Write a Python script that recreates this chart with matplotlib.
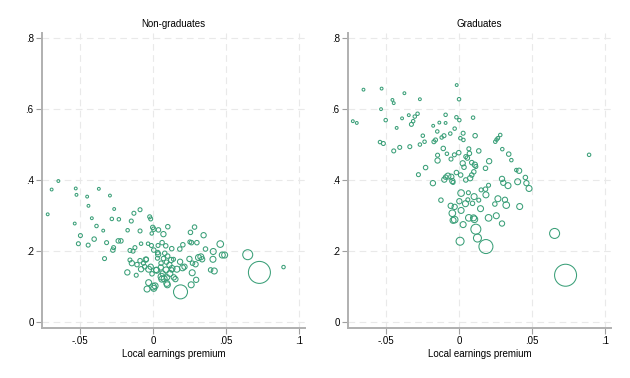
import numpy as np
import matplotlib
matplotlib.use("Agg")
import matplotlib.pyplot as plt

# local earnings premium, share, and cell weight
ng_x = [-0.0721, -0.0694, -0.0648, -0.0529, -0.0524, -0.0451, -0.0442, -0.0371, -0.0295, -0.0266,
        -0.0419, -0.0282, -0.0234, -0.0536, -0.0387, -0.0341, -0.0497, -0.0511, -0.0444, -0.0403,
        -0.0318, -0.0332, -0.0275, -0.0270, -0.0238, -0.0220, -0.0174, -0.0149, -0.0131, -0.0089,
        -0.0089, -0.0023, -0.0016, -0.0002, 0.0005, 0.0037, -0.0009, 0.0101, 0.0071, 0.0256,
        0.0284, 0.0346, 0.0300, 0.0263, 0.0460, 0.0359, 0.0412, 0.0474, 0.0490, 0.0410,
        0.0419, 0.0394, 0.0648, 0.0728, 0.0893, 0.0188, 0.0204, 0.0183, 0.0128, 0.0252,
        0.0311, 0.0327, 0.0336, 0.0291, 0.0270, 0.0249, 0.0268, 0.0295, 0.0261, 0.0202,
        0.0215, 0.0185, 0.0163, 0.0153, 0.0142, 0.0115, 0.0128, 0.0124, 0.0140, 0.0112,
        0.0092, 0.0089, 0.0096, 0.0094, 0.0098, 0.0066, 0.0053, 0.0055, 0.0071, 0.0080,
        0.0032, 0.0030, 0.0021, -0.0007, -0.0016, -0.0030, -0.0046, -0.0057, -0.0066, -0.0082,
        -0.0089, -0.0110, -0.0115, -0.0176, -0.0158, -0.0137, -0.0158, -0.0124, -0.0082, -0.0034,
        -0.0011, 0.0005, 0.0034, 0.0062, 0.0087, 0.0014, 0.0000, -0.0041, 0.0005, 0.0057,
        0.0076, -0.0145, -0.0050, 0.0035, 0.0100, 0.0130, 0.0060, -0.0030, 0.0025]
ng_y = [0.303, 0.373, 0.397, 0.376, 0.358, 0.353, 0.327, 0.375, 0.356, 0.318,
        0.292, 0.290, 0.289, 0.277, 0.270, 0.257, 0.243, 0.220, 0.216, 0.233,
        0.223, 0.178, 0.202, 0.209, 0.228, 0.228, 0.258, 0.284, 0.306, 0.316,
        0.256, 0.296, 0.290, 0.266, 0.261, 0.259, 0.249, 0.268, 0.247, 0.252,
        0.267, 0.244, 0.223, 0.223, 0.219, 0.205, 0.198, 0.188, 0.188, 0.176,
        0.143, 0.146, 0.189, 0.139, 0.154, 0.084, 0.217, 0.205, 0.206, 0.225,
        0.181, 0.183, 0.176, 0.162, 0.165, 0.177, 0.138, 0.118, 0.104, 0.152,
        0.155, 0.169, 0.148, 0.120, 0.125, 0.136, 0.146, 0.174, 0.176, 0.160,
        0.168, 0.146, 0.125, 0.108, 0.104, 0.136, 0.153, 0.165, 0.178, 0.193,
        0.195, 0.179, 0.146, 0.135, 0.155, 0.148, 0.176, 0.155, 0.165, 0.148,
        0.172, 0.161, 0.131, 0.139, 0.174, 0.199, 0.201, 0.209, 0.220, 0.220,
        0.215, 0.202, 0.215, 0.223, 0.214, 0.101, 0.099, 0.092, 0.094, 0.127,
        0.121, 0.165, 0.175, 0.190, 0.185, 0.150, 0.120, 0.110, 0.145]
ng_w = [2, 2, 2, 2, 2, 2, 2, 2, 2, 2,
        2, 3, 3, 2, 3, 2, 4, 4, 4, 5,
        4, 4, 5, 4, 5, 5, 3, 4, 4, 4,
        4, 4, 4, 5, 5, 5, 3, 5, 7, 5,
        5, 7, 5, 5, 11, 5, 9, 9, 9, 9,
        9, 5, 25, 121, 3, 49, 5, 5, 5, 4,
        9, 9, 7, 7, 5, 7, 9, 7, 9, 9,
        7, 7, 9, 7, 7, 9, 5, 7, 4, 7,
        5, 9, 7, 9, 9, 7, 7, 5, 5, 5,
        5, 4, 7, 5, 7, 9, 5, 5, 4, 7,
        5, 5, 4, 7, 4, 4, 4, 4, 3, 3,
        4, 5, 4, 5, 5, 9, 11, 9, 9, 11,
        9, 7, 7, 7, 5, 9, 9, 9, 9]

g_x = [-0.0727, -0.0700, -0.0654, -0.0530, -0.0534, -0.0502, -0.0541, -0.0518, -0.0456, -0.0447,
       -0.0374, -0.0390, -0.0427, -0.0344, -0.0326, -0.0314, -0.0303, -0.0284, -0.0268, -0.0248,
       -0.0236, -0.0268, -0.0337, -0.0406, -0.0447, -0.0229, -0.0278, -0.0177, -0.0135, -0.0092,
       -0.0092, -0.0060, -0.0030, -0.0018, -0.0016, 0.0000, 0.0002, 0.0028, 0.0096, 0.0110,
       0.0009, 0.0030, -0.0172, -0.0149, -0.0161, -0.0119, -0.0103, -0.0147, -0.0147, -0.0108,
       -0.0083, -0.0055, -0.0032, -0.0002, 0.0025, 0.0034, 0.0067, 0.0071, 0.0057, 0.0046,
       0.0087, 0.0108, 0.0135, 0.0115, 0.0206, 0.0181, 0.0248, 0.0257, 0.0266, 0.0282,
       0.0296, 0.0340, 0.0358, 0.0392, 0.0411, 0.0401, 0.0454, 0.0461, 0.0479, 0.0294,
       0.0303, 0.0335, 0.0314, 0.0323, 0.0266, 0.0245, 0.0255, 0.0294, 0.0415, 0.0202,
       0.0181, 0.0184, 0.0151, 0.0147, 0.0135, 0.0202, 0.0103, 0.0092, 0.0060, 0.0064,
       0.0044, 0.0014, 0.0002, 0.0014, -0.0030, -0.0057, -0.0046, -0.0030, -0.0041, 0.0028,
       0.0067, 0.0099, 0.0105, 0.0115, 0.0126, 0.0007, 0.0184, 0.0654, 0.0729, 0.0890,
       -0.0124, -0.0179, -0.0101, -0.0076, -0.0053, -0.0046, -0.0018, 0.0011, 0.0046, 0.0076,
       0.0087, 0.0101, -0.0092, -0.0041]
g_y = [0.566, 0.561, 0.655, 0.658, 0.600, 0.569, 0.507, 0.503, 0.626, 0.617,
       0.645, 0.574, 0.547, 0.583, 0.557, 0.566, 0.579, 0.587, 0.628, 0.525,
       0.508, 0.500, 0.494, 0.492, 0.482, 0.435, 0.415, 0.553, 0.562, 0.561,
       0.584, 0.531, 0.545, 0.577, 0.668, 0.628, 0.569, 0.532, 0.576, 0.525,
       0.518, 0.513, 0.508, 0.537, 0.513, 0.520, 0.525, 0.470, 0.455, 0.489,
       0.474, 0.459, 0.471, 0.477, 0.447, 0.436, 0.488, 0.475, 0.462, 0.466,
       0.449, 0.443, 0.482, 0.438, 0.453, 0.433, 0.508, 0.514, 0.518, 0.527,
       0.487, 0.473, 0.456, 0.428, 0.426, 0.395, 0.407, 0.391, 0.376, 0.403,
       0.392, 0.384, 0.344, 0.329, 0.347, 0.332, 0.299, 0.277, 0.325, 0.385,
       0.374, 0.358, 0.372, 0.319, 0.343, 0.293, 0.353, 0.334, 0.344, 0.364,
       0.333, 0.363, 0.340, 0.314, 0.324, 0.327, 0.306, 0.288, 0.286, 0.274,
       0.293, 0.293, 0.289, 0.261, 0.236, 0.227, 0.212, 0.249, 0.131, 0.471,
       0.343, 0.391, 0.401, 0.411, 0.409, 0.397, 0.421, 0.414, 0.400, 0.405,
       0.414, 0.423, 0.408, 0.393]
g_w = [2, 2, 2, 2, 2, 3, 3, 4, 2, 2,
       2, 2, 2, 2, 4, 3, 3, 3, 2, 3,
       3, 3, 4, 4, 4, 5, 4, 2, 2, 2,
       3, 3, 3, 3, 2, 3, 3, 4, 3, 5,
       3, 3, 4, 3, 4, 3, 4, 4, 7, 5,
       3, 4, 4, 5, 7, 5, 4, 5, 5, 4,
       5, 7, 5, 4, 7, 5, 3, 3, 3, 3,
       3, 5, 3, 3, 7, 9, 5, 7, 9, 7,
       7, 9, 7, 11, 9, 5, 9, 7, 9, 4,
       5, 9, 4, 9, 4, 11, 9, 5, 4, 4,
       9, 11, 7, 9, 7, 7, 11, 11, 9, 9,
       11, 9, 11, 25, 16, 16, 49, 25, 121, 3,
       5, 7, 7, 9, 7, 7, 5, 5, 5, 7,
       5, 5, 5, 4]

xticks = [-0.05, 0, 0.05, 0.1]
xticklabels = ["-.05", "0", ".05", ".1"]
yticks = [0, 0.2, 0.4, 0.6, 0.8]
yticklabels = ["0", ".2", ".4", ".6", ".8"]
titles = ["Non-graduates", "Graduates"]

plt.rcParams['font.family'] = ['Liberation Sans', 'DejaVu Sans']
green = '#3a9f78'

fig = plt.figure(figsize=(6.3, 3.78), dpi=100)
axl = fig.add_axes([42/630, 50/378, 263/630, 295/378])
axr = fig.add_axes([348/630, 50/378, 263/630, 295/378])

for ax, x, y, w, t in [(axl, ng_x, ng_y, ng_w, titles[0]), (axr, g_x, g_y, g_w, titles[1])]:
    s = 2.07 * np.array(w)
    ax.scatter(x, y, s=s, facecolors='none', edgecolors=green, linewidths=0.75, zorder=3)
    ax.set_xlim(-0.076, 0.104)
    ax.set_ylim(-0.018, 0.815)
    ax.set_xticks(xticks)
    ax.set_xticklabels(xticklabels)
    ax.set_yticks(yticks)
    ax.set_yticklabels(yticklabels)
    ax.grid(True, color='#e9e9e9', linestyle=(0, (6, 4)), linewidth=0.8, zorder=0)
    for sp in ['top', 'right']:
        ax.spines[sp].set_visible(False)
    for sp in ['left', 'bottom']:
        ax.spines[sp].set_color('#b0b0b0')
        ax.spines[sp].set_linewidth(1.4)
    ax.tick_params(length=4, width=0.8, color='#a0a0a0', labelsize=7, pad=2)
    ax.set_title(t, fontsize=7, pad=4)
    ax.set_xlabel("Local earnings premium", fontsize=7, labelpad=2)

fig.savefig("out.png", dpi=100, facecolor='white')
